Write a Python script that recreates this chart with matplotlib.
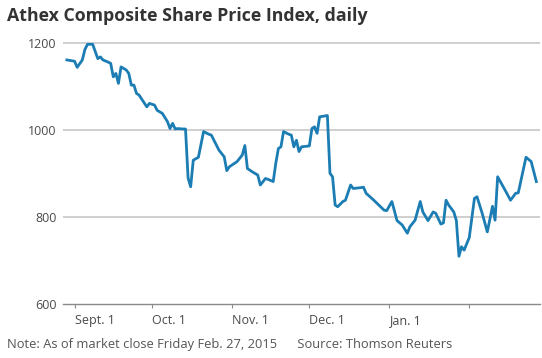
import numpy as np
import pandas as pd
import matplotlib
matplotlib.use("Agg")
from matplotlib import pyplot as plt
import matplotlib.dates as mdates

# days after Sept. 1, 2014 and index close
day_offsets = [-3, 0, 1, 3, 4, 5, 7, 9, 10, 11, 13, 14, 15, 16, 17, 18, 20, 21, 22, 23,
               24, 25, 28, 29, 31, 32, 34, 36, 37, 38, 39, 40, 42, 43, 44, 45, 46, 48, 50, 52,
               53, 56, 58, 59, 60, 63, 65, 66, 67, 69, 71, 72, 74, 75, 77, 78, 79, 80, 81, 83,
               84, 85, 86, 87, 88, 91, 92, 93, 94, 95, 98, 99, 100, 101, 102, 104, 105, 107, 108, 111,
               112, 113, 116, 120, 121, 123, 125, 127, 129, 130, 132, 134, 135, 137, 139, 140, 142, 143, 144, 145,
               147, 148, 149, 150, 151, 153, 155, 156, 158, 160, 162, 163, 164, 167, 169, 171, 172, 175, 177, 179]
closes = [1162, 1159, 1145, 1162, 1186, 1198, 1198, 1165, 1169, 1162, 1157, 1154, 1123, 1131, 1108, 1146, 1139, 1131, 1104, 1104,
          1085, 1081, 1054, 1062, 1058, 1046, 1039, 1020, 1004, 1016, 1003, 1004, 1003, 1003, 890, 870, 931, 938, 997, 991,
          989, 954, 939, 907, 916, 928, 943, 965, 912, 904, 897, 874, 889, 887, 882, 924, 958, 962, 997, 991,
          989, 962, 977, 951, 962, 964, 1004, 1008, 993, 1031, 1034, 901, 893, 828, 824, 836, 839, 874, 866, 868,
          869, 855, 839, 816, 815, 836, 792, 782, 763, 778, 793, 836, 812, 792, 812, 809, 784, 787, 839, 828,
          812, 792, 710, 732, 724, 753, 843, 847, 809, 766, 825, 793, 893, 861, 839, 855, 856, 938, 928, 882]

tick_dates = ["2014-09-01", "2014-10-01", "2014-11-01", "2014-12-01", "2015-01-01", "2015-02-01"]
tick_labels = ["Sept. 1", "Oct. 1", "Nov. 1", "Dec. 1", "Jan. 1", ""]
y_ticks = [600, 800, 1000, 1200]

start = pd.Timestamp("2014-09-01")
dates = start + pd.to_timedelta(day_offsets, unit="D")

plt.rcParams['font.family'] = ['Open Sans', 'DejaVu Sans']

fig = plt.figure(figsize=(5.42, 3.58), dpi=100)
ax = fig.add_axes([0.1162, 0.1508, 0.88, 0.740])

ax.plot(dates, closes, color='#1b7db3', linewidth=2.0, solid_joinstyle='round', zorder=3)

ax.set_xlim(start - pd.Timedelta(days=4.5), start + pd.Timedelta(days=180.4))
ax.set_ylim(600, 1210)

ax.set_yticks(y_ticks)
ax.set_yticklabels([str(v) for v in y_ticks])
for v in y_ticks[1:]:
    ax.axhline(v, color='#cfcfcf', linewidth=1.4, zorder=1)

ax.set_xticks(pd.to_datetime(tick_dates))
ax.set_xticklabels(tick_labels, ha='left')

for s in ['top', 'right', 'left']:
    ax.spines[s].set_visible(False)
ax.spines['bottom'].set_color('#8a8a8a')
ax.spines['bottom'].set_linewidth(1.0)

ax.tick_params(axis='y', length=0, pad=4.5, labelsize=9, labelcolor='#4a4a4a')
ax.tick_params(axis='x', length=3, width=0.8, color='#8a8a8a', pad=4,
               labelsize=9, labelcolor='#4a4a4a')

fig.text(0.013, 0.955, 'Athex Composite Share Price Index, daily', fontsize=12.8,
         fontweight='bold', color='#333333', va='center', ha='left')
fig.text(0.013, 0.037, 'Note: As of market close Friday Feb. 27, 2015      Source: Thomson Reuters',
         fontsize=9.3, color='#555555', va='center', ha='left')

fig.savefig('out.png', dpi=100)
